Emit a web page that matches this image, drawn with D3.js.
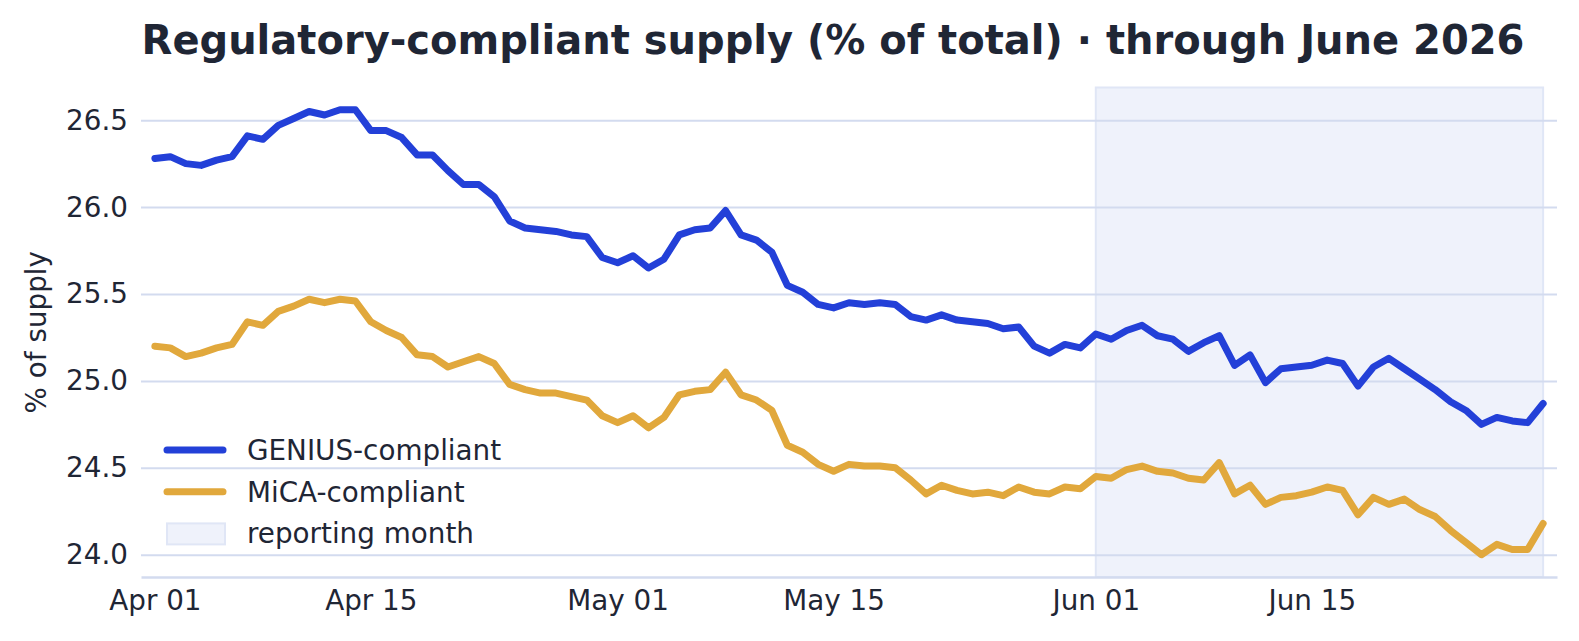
<!DOCTYPE html>
<meta charset="utf-8">
<style>
  body { margin: 0; background: #fff; }
  text { font-family: "DejaVu Sans", sans-serif; fill: #1f2635; }
</style>
<body>
<script src="https://cdn.jsdelivr.net/npm/d3@7"></script>
<script>

// daily series, Apr 01 .. Jun 30 2026
var startDate = new Date(2026, 3, 1),
    endDate = new Date(2026, 5, 30);

var genius = [
  26.28, 26.29, 26.25, 26.24, 26.27, 26.29, 26.41, 26.39, 26.47, 26.51,
  26.55, 26.53, 26.56, 26.56, 26.44, 26.44, 26.40, 26.30, 26.30, 26.21,
  26.13, 26.13, 26.06, 25.92, 25.88, 25.87, 25.86, 25.84, 25.83, 25.71,
  25.68, 25.72, 25.65, 25.70, 25.84, 25.87, 25.88, 25.98, 25.84, 25.81,
  25.74, 25.55, 25.51, 25.44, 25.42, 25.45, 25.44, 25.45, 25.44, 25.37,
  25.35, 25.38, 25.35, 25.34, 25.33, 25.30, 25.31, 25.20, 25.16, 25.21,
  25.19, 25.27, 25.24, 25.29, 25.32, 25.26, 25.24, 25.17, 25.22, 25.26,
  25.09, 25.15, 24.99, 25.07, 25.08, 25.09, 25.12, 25.10, 24.97, 25.08,
  25.13, 25.07, 25.01, 24.95, 24.88, 24.83, 24.75, 24.79, 24.77, 24.76,
  24.87
];

var mica = [
  25.20, 25.19, 25.14, 25.16, 25.19, 25.21, 25.34, 25.32, 25.40, 25.43,
  25.47, 25.45, 25.47, 25.46, 25.34, 25.29, 25.25, 25.15, 25.14, 25.08,
  25.11, 25.14, 25.10, 24.98, 24.95, 24.93, 24.93, 24.91, 24.89, 24.80,
  24.76, 24.80, 24.73, 24.79, 24.92, 24.94, 24.95, 25.05, 24.92, 24.89,
  24.83, 24.63, 24.59, 24.52, 24.48, 24.52, 24.51, 24.51, 24.50, 24.43,
  24.35, 24.40, 24.37, 24.35, 24.36, 24.34, 24.39, 24.36, 24.35, 24.39,
  24.38, 24.45, 24.44, 24.49, 24.51, 24.48, 24.47, 24.44, 24.43, 24.53,
  24.35, 24.40, 24.29, 24.33, 24.34, 24.36, 24.39, 24.37, 24.23, 24.33,
  24.29, 24.32, 24.26, 24.22, 24.14, 24.07, 24.00, 24.06, 24.03, 24.03,
  24.18
];

var yTicks = [24.0, 24.5, 25.0, 25.5, 26.0, 26.5];
var xTicks = ["2026-04-01", "2026-04-15", "2026-05-01", "2026-05-15", "2026-06-01", "2026-06-15"];
var reportStart = new Date(2026, 5, 1);

var seriesNames = ["GENIUS-compliant", "MiCA-compliant"],
    seriesColors = ["#2340d8", "#e1a83c"];

var dates = d3.timeDay.range(startDate, d3.timeDay.offset(endDate, 1));

var W = 1579, H = 641,
    plotL = 141, plotR = 1557, plotT = 87.5, plotB = 577;

var svg = d3.select("body").append("svg")
    .attr("width", W)
    .attr("height", H);

// small margin on both ends like matplotlib's default padding
var pad = 0.9 * 864e5;
var x = d3.scaleTime()
    .domain([new Date(+startDate - pad), new Date(+endDate + pad)])
    .range([plotL, plotR]);

var ext = d3.extent(genius.concat(mica)),
    ypad = (ext[1] - ext[0]) * 0.05;
var y = d3.scaleLinear()
    .domain([ext[0] - ypad, ext[1] + ypad])
    .range([plotB, plotT]);

// reporting month band
svg.append("rect")
    .attr("x", x(reportStart))
    .attr("y", plotT)
    .attr("width", x(endDate) - x(reportStart))
    .attr("height", plotB - plotT)
    .style("fill", "#eff2fb")
    .style("stroke", "#e0e6f6")
    .style("stroke-width", 2);

// gridlines + y labels
var yAxis = d3.axisLeft(y)
    .tickValues(yTicks)
    .tickFormat(d3.format(".1f"))
    .tickSize(-(plotR - plotL))
    .tickPadding(13);

svg.append("g")
    .attr("transform", "translate(" + plotL + ",0)")
    .call(yAxis)
    .call(function(g) {
      g.select(".domain").remove();
      g.selectAll(".tick line").style("stroke", "#d3dbef").style("stroke-width", 2);
      g.selectAll(".tick text")
          .style("font-size", "27.8px")
          .style("fill", "#1f2635");
    });

var xAxis = d3.axisBottom(x)
    .tickValues(xTicks.map(function(d) { return d3.timeParse("%Y-%m-%d")(d); }))
    .tickFormat(d3.timeFormat("%b %d"))
    .tickSize(0)
    .tickPadding(13.5);

svg.append("g")
    .attr("transform", "translate(0," + plotB + ")")
    .call(xAxis)
    .call(function(g) {
      g.select(".domain").style("stroke", "#d3dbef").style("stroke-width", 2.5);
      g.selectAll(".tick text")
          .style("font-size", "27.8px")
          .style("fill", "#1f2635");
    });

// lines
var line = d3.line()
    .x(function(d, i) { return x(dates[i]); })
    .y(function(d) { return y(d); });

svg.selectAll("path.series")
    .data([genius, mica])
  .enter().append("path")
    .attr("class", "series")
    .attr("d", line)
    .style("fill", "none")
    .style("stroke", function(d, i) { return seriesColors[i]; })
    .style("stroke-width", 7)
    .style("stroke-linejoin", "round")
    .style("stroke-linecap", "round");

// title + y label
svg.append("text")
    .attr("x", 833)
    .attr("y", 54)
    .attr("text-anchor", "middle")
    .style("font-size", "40px")
    .style("font-weight", "bold")
    .text("Regulatory-compliant supply (% of total) \u00b7 through June 2026");

svg.append("text")
    .attr("transform", "translate(46," + ((plotT + plotB) / 2) + ") rotate(-90)")
    .attr("text-anchor", "middle")
    .style("font-size", "27.8px")
    .text("% of supply");

// legend
var legend = svg.append("g").attr("transform", "translate(167,450)");
var rowH = 41.7;

seriesNames.forEach(function(name, i) {
  legend.append("line")
      .attr("x1", 0).attr("x2", 56)
      .attr("y1", i * rowH).attr("y2", i * rowH)
      .style("stroke", seriesColors[i])
      .style("stroke-width", 7)
      .style("stroke-linecap", "round");
  legend.append("text")
      .attr("x", 80).attr("y", i * rowH + 10)
      .style("font-size", "27.8px")
      .text(name);
});

legend.append("rect")
    .attr("x", 0).attr("y", 2 * rowH - 10)
    .attr("width", 58).attr("height", 21)
    .style("fill", "#eff2fb")
    .style("stroke", "#e0e6f6")
    .style("stroke-width", 2);
legend.append("text")
    .attr("x", 80).attr("y", 2 * rowH + 10)
    .style("font-size", "27.8px")
    .text("reporting month");

</script>
